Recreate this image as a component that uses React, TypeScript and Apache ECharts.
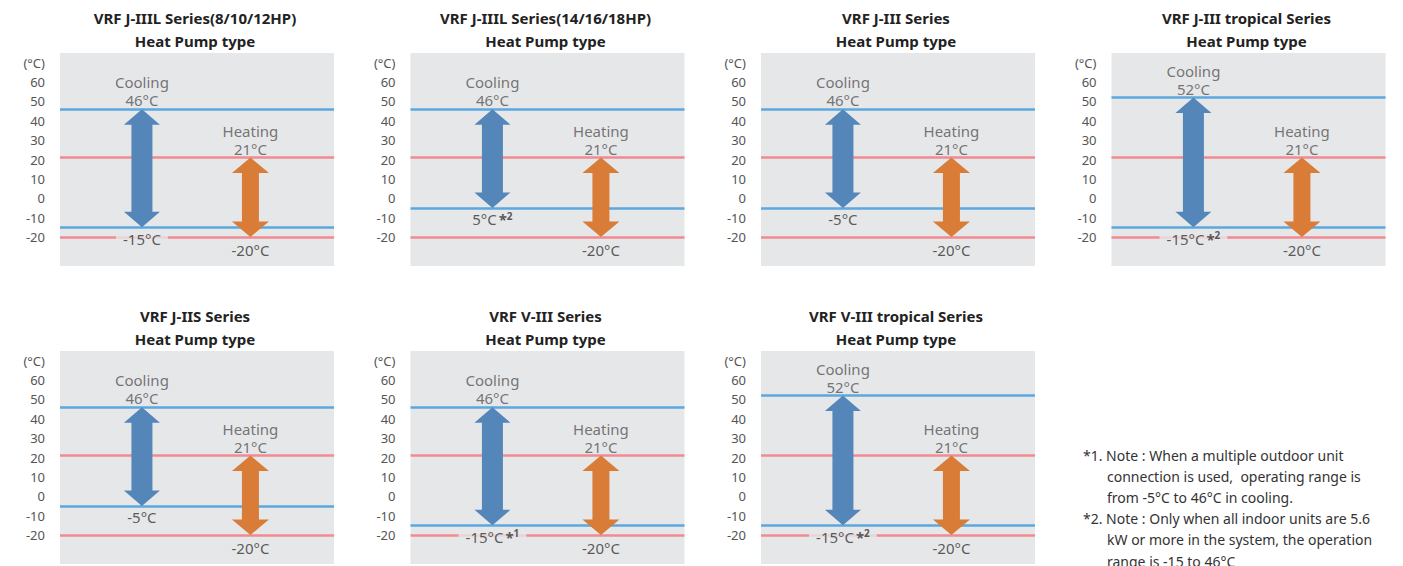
import React, { useEffect, useRef } from "react";
import * as echarts from "echarts";

// ---- data ----
const panelTitles = [
  "VRF J-IIIL Series(8/10/12HP)",
  "VRF J-IIIL Series(14/16/18HP)",
  "VRF J-III Series",
  "VRF J-III tropical Series",
  "VRF J-IIS Series",
  "VRF V-III Series",
  "VRF V-III tropical Series",
];
const panelSubtitle = "Heat Pump type";
const coolingMax = [46, 46, 46, 52, 46, 46, 52];
const coolingMin = [-15, -5, -5, -15, -5, -15, -15];
const coolingMinText = ["-15°C", "5°C", "-5°C", "-15°C", "-5°C", "-15°C", "-15°C"];
const coolingMinNote = ["", "2", "", "2", "", "1", "2"];
const heatingMax = [21, 21, 21, 21, 21, 21, 21];
const heatingMin = [-20, -20, -20, -20, -20, -20, -20];
const yTickValues = [-20, -10, 0, 10, 20, 30, 40, 50, 60];
const unitTickValue = 70;
const unitLabel = "(°C)";
const coolingName = "Cooling";
const heatingName = "Heating";
const noteLines = [
  { text: "*1. Note : When a multiple outdoor unit", indent: false },
  { text: "connection is used,  operating range is", indent: true },
  { text: "from -5°C to 46°C in cooling.", indent: true },
  { text: "*2. Note : Only when all indoor units are 5.6", indent: false },
  { text: "kW or more in the system, the operation", indent: true },
  { text: "range is -15 to 46°C", indent: true },
];

// ---- style / layout constants ----
const FONT = "'Noto Sans', 'DejaVu Sans', sans-serif";
const BG = "#e6e7e9";
const BLUE_LINE = "#5ba7de";
const PINK_LINE = "#f08b91";
const BLUE_ARROW = "#5486b9";
const ORANGE_ARROW = "#d87c38";
const COOL_X = 0.299;
const HEAT_X = 0.695;

const App: React.FC = () => {
  const ref = useRef<HTMLDivElement>(null);
  useEffect(() => {
    document.body.style.margin = "0";
    if (!ref.current) return;
    const chart = echarts.init(ref.current, undefined, { renderer: "svg" });

    const grids: any[] = [];
    const xAxes: any[] = [];
    const yAxes: any[] = [];
    const series: any[] = [];
    const graphics: any[] = [];

    panelTitles.forEach((title, i) => {
      const col = i % 4;
      const row = Math.floor(i / 4);
      const left = 60 + col * 350.5;
      const top = 53 + row * 298;
      grids.push({
        left,
        top,
        width: 274,
        height: 213,
        show: true,
        backgroundColor: BG,
        borderWidth: 0,
      });
      xAxes.push({ type: "value", gridIndex: i, min: 0, max: 1, show: false });
      yAxes.push({
        type: "value",
        gridIndex: i,
        min: -35,
        max: 75,
        interval: 5,
        axisLine: { show: false },
        axisTick: { show: false },
        splitLine: { show: false },
        axisLabel: {
          margin: 15,
          color: "#555",
          fontSize: 13,
          fontFamily: FONT,
          formatter: (v: number) =>
            yTickValues.includes(v) ? String(v) : v === unitTickValue ? unitLabel : "",
        },
      });

      // lines
      series.push({
        type: "line",
        xAxisIndex: i,
        yAxisIndex: i,
        data: [],
        z: 1,
        silent: true,
        markLine: {
          silent: true,
          z: 1,
          symbol: ["none", "none"],
          label: { show: false },
          data: [
            { yAxis: coolingMax[i], lineStyle: { color: BLUE_LINE, width: 2.5, type: "solid" } },
            { yAxis: coolingMin[i], lineStyle: { color: BLUE_LINE, width: 2.5, type: "solid" } },
            { yAxis: heatingMax[i], lineStyle: { color: PINK_LINE, width: 2.5, type: "solid" } },
            { yAxis: heatingMin[i], lineStyle: { color: PINK_LINE, width: 2.5, type: "solid" } },
          ],
        },
      });

      // arrows
      series.push({
        type: "custom",
        xAxisIndex: i,
        yAxisIndex: i,
        z: 10,
        silent: true,
        data: [
          [COOL_X, coolingMax[i], coolingMin[i], 0],
          [HEAT_X, heatingMax[i], heatingMin[i], 1],
        ],
        renderItem: (params: any, api: any) => {
          const x = api.value(0);
          const pT = api.coord([x, api.value(1)]);
          const pB = api.coord([x, api.value(2)]);
          const kind = api.value(3);
          const cx = pT[0];
          const yT = pT[1];
          const yB = pB[1];
          const hw = kind === 0 ? 18 : 18.5;
          const sw = kind === 0 ? 10.5 : 8.5;
          const hh = 15.5;
          const pts = [
            [cx, yT],
            [cx + hw, yT + hh],
            [cx + sw, yT + hh],
            [cx + sw, yB - hh],
            [cx + hw, yB - hh],
            [cx, yB],
            [cx - hw, yB - hh],
            [cx - sw, yB - hh],
            [cx - sw, yT + hh],
            [cx - hw, yT + hh],
          ];
          return {
            type: "polygon",
            shape: { points: pts },
            style: { fill: kind === 0 ? BLUE_ARROW : ORANGE_ARROW },
          };
        },
      });

      // labels
      const note = coolingMinNote[i];
      const minFormatter = note
        ? `{m|${coolingMinText[i]}}{s|*}{sup|${note}}`
        : `{m|${coolingMinText[i]}}`;
      series.push({
        type: "scatter",
        xAxisIndex: i,
        yAxisIndex: i,
        symbolSize: 0,
        z: 12,
        silent: true,
        data: [
          {
            value: [COOL_X, coolingMax[i]],
            label: {
              show: true,
              position: "top",
              distance: 0,
              formatter: `${coolingName}\n${coolingMax[i]}°C`,
              color: "#555",
              fontSize: 15,
              lineHeight: 18,
              fontFamily: FONT,
            },
          },
          {
            value: [HEAT_X, heatingMax[i]],
            label: {
              show: true,
              position: "top",
              distance: 0,
              formatter: `${heatingName}\n${heatingMax[i]}°C`,
              color: "#555",
              fontSize: 15,
              lineHeight: 18,
              fontFamily: FONT,
            },
          },
          {
            value: [COOL_X, coolingMin[i]],
            label: {
              show: true,
              position: "bottom",
              distance: 3,
              formatter: minFormatter,
              backgroundColor: BG,
              padding: [0, 7],
              rich: {
                m: { color: "#333", fontSize: 15, lineHeight: 17, fontFamily: FONT },
                s: { color: "#333", fontSize: 15, lineHeight: 17, fontFamily: FONT, fontWeight: "bold", padding: [0, 0, 0, 2] },
                sup: { color: "#333", fontSize: 10, lineHeight: 17, fontFamily: FONT, fontWeight: "bold", verticalAlign: "top" },
              },
            },
          },
          {
            value: [HEAT_X, heatingMin[i]],
            label: {
              show: true,
              position: "bottom",
              distance: 5,
              formatter: `${heatingMin[i]}°C`,
              color: "#333",
              fontSize: 15,
              lineHeight: 17,
              fontFamily: FONT,
            },
          },
        ],
      });

      // titles
      const cx = left + 135;
      graphics.push({
        type: "text",
        x: cx,
        y: top - 35,
        style: {
          text: title,
          textAlign: "center",
          textVerticalAlign: "middle",
          fill: "#222",
          font: `bold 15px ${FONT}`,
        },
      });
      graphics.push({
        type: "text",
        x: cx,
        y: top - 12,
        style: {
          text: panelSubtitle,
          textAlign: "center",
          textVerticalAlign: "middle",
          fill: "#222",
          font: `bold 15px ${FONT}`,
        },
      });
    });

    noteLines.forEach((ln, k) => {
      graphics.push({
        type: "text",
        x: ln.indent ? 1107 : 1083,
        y: 455 + k * 21.2,
        style: {
          text: ln.text,
          textAlign: "left",
          textVerticalAlign: "middle",
          fill: "#333",
          font: `14px ${FONT}`,
        },
      });
    });

    chart.setOption({
      animation: false,
      backgroundColor: "#fff",
      grid: grids,
      xAxis: xAxes,
      yAxis: yAxes,
      series,
      graphic: graphics,
    });
    return () => chart.dispose();
  }, []);
  return <div ref={ref} style={{ width: 1403, height: 566 }} />;
};

export default App;
